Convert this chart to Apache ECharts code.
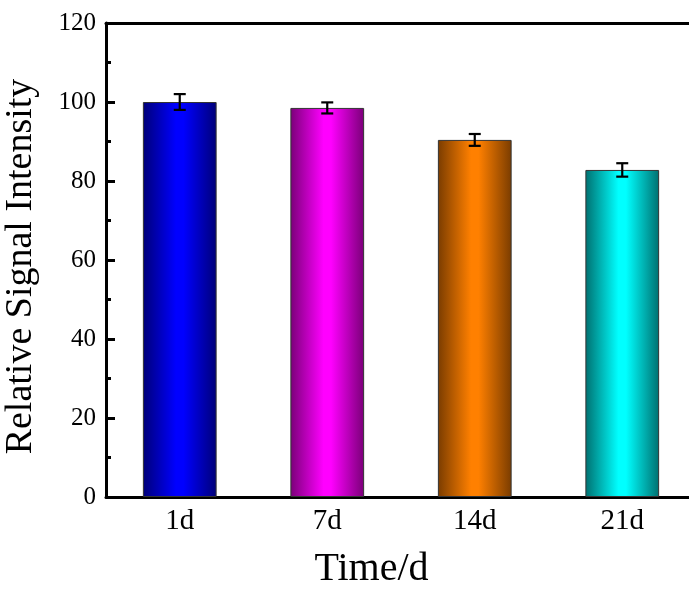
<!DOCTYPE html>
<html><head><meta charset="utf-8">
<script src="https://cdn.jsdelivr.net/npm/echarts@6/dist/echarts.min.js"></script>
<style>html,body{margin:0;padding:0;background:#fff;overflow:hidden}#c{width:720px;height:590px}</style>
</head><body><div id="c"></div>
<script>
const categories = ['1d', '7d', '14d', '21d'];
const values = [100.0, 98.5, 90.4, 82.8];
const errors = [2.0, 1.4, 1.5, 1.7];
const yTicks = [0, 20, 40, 60, 80, 100, 120];
const edgeColors = ['#000078', '#7a0078', '#7a3c00', '#007070'];
const centerColors = ['#0000ff', '#ff00ff', '#ff8000', '#00ffff'];

function grad(i){
  return new echarts.graphic.LinearGradient(0,0,1,0,[
    {offset:0,color:edgeColors[i]},
    {offset:0.45,color:centerColors[i]},
    {offset:0.55,color:centerColors[i]},
    {offset:1,color:edgeColors[i]}
  ]);
}
const chart = echarts.init(document.getElementById('c'), null, {renderer:'canvas'});
const font = '"Liberation Serif", "Times New Roman", serif';
chart.setOption({
  animation:false,
  grid:{left:106, top:23, width:590, height:474, containLabel:false, outerBoundsMode:'none', show:false},
  xAxis:[{type:'category', data:categories,
    axisLine:{lineStyle:{color:'#000', width:3}},
    axisTick:{show:false},
    axisLabel:{fontFamily:font, fontSize:29, color:'#000', margin:10},
    name:'Time/d', nameLocation:'middle', nameGap:52,
    nameTextStyle:{fontFamily:font, fontSize:40, color:'#000', padding:[0,59,0,0]}
  },{type:'category', data:categories, position:'top',
    axisLine:{show:true, lineStyle:{color:'#000', width:3}},
    axisTick:{show:false}, axisLabel:{show:false}
  }],
  yAxis:{type:'value', min:yTicks[0], max:yTicks[yTicks.length-1], interval:20,
    axisLine:{show:true, lineStyle:{color:'#000', width:3}},
    axisTick:{show:true, inside:true, length:9, lineStyle:{width:3, color:'#000'}},
    minorTick:{show:true, splitNumber:2, length:5, lineStyle:{width:3, color:'#000'}},
    splitLine:{show:false},
    axisLabel:{fontFamily:font, fontSize:25, color:'#000', margin:10},
    name:'Relative Signal Intensity', nameLocation:'middle', nameGap:66,
    nameTextStyle:{fontFamily:font, fontSize:38, color:'#000', padding:[0,13,0,0]}
  },
  series:[
    {type:'bar', barWidth:'50%',
     data: values.map((v,i)=>({value:v, itemStyle:{color:grad(i), borderColor:'#333', borderWidth:1}})),
     z:2},
    {type:'custom', z:5,
     data: values.map((v,i)=>[i, v-errors[i], v+errors[i]]),
     renderItem:function(params, api){
       const lo = api.coord([api.value(0), api.value(1)]);
       const hi = api.coord([api.value(0), api.value(2)]);
       const hw = 6;
       const st = {stroke:'#000', lineWidth:2.2};
       return {type:'group', children:[
         {type:'line', shape:{x1:lo[0], y1:lo[1], x2:hi[0], y2:hi[1]}, style:st},
         {type:'line', shape:{x1:lo[0]-hw, y1:lo[1], x2:lo[0]+hw, y2:lo[1]}, style:st},
         {type:'line', shape:{x1:hi[0]-hw, y1:hi[1], x2:hi[0]+hw, y2:hi[1]}, style:st}
       ]};
     }}
  ]
});
</script></body></html>
